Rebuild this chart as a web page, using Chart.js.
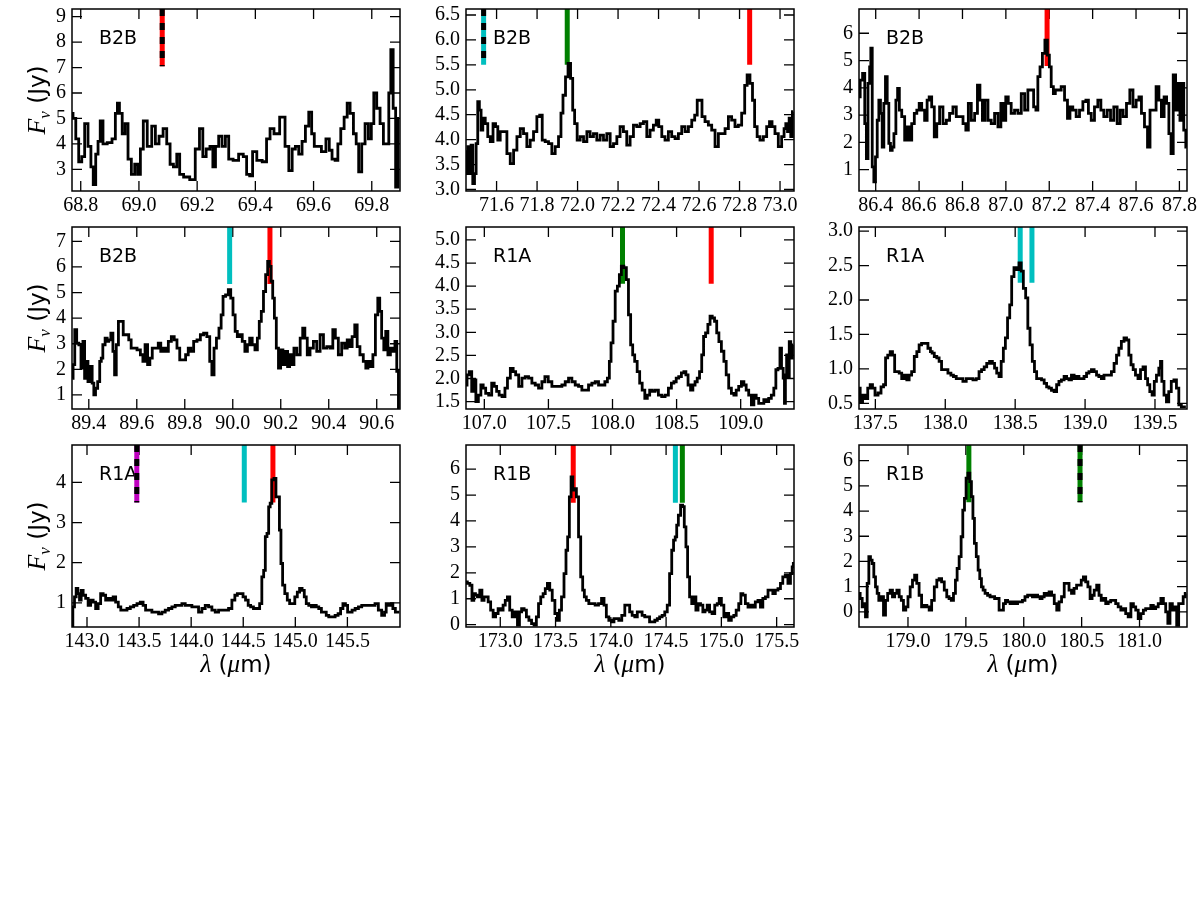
<!DOCTYPE html>
<html>
<head>
<meta charset="utf-8">
<script src="https://cdn.jsdelivr.net/npm/chart.js@4.4.0/dist/chart.umd.min.js"></script>
<style>
  body { margin: 0; background: #fff; width: 1200px; height: 900px; position: relative; overflow: hidden; }
  .p { position: absolute; width: 412px; height: 260px; }
</style>
</head>
<body>
<script>
// ---- B2B 68.8-69.9 um ----
const lam1 = [68.768,68.779,68.787,68.799,68.808,68.819,68.831,68.839,68.847,68.856,68.863,68.871,68.882,68.900,68.915,68.923,68.929,68.937,68.948,68.957,68.968,68.980,68.991,69.000,69.010,69.020,69.037,69.051,69.062,69.076,69.090,69.101,69.113,69.124,69.136,69.144,69.163,69.186,69.201,69.215,69.224,69.238,69.250,69.258,69.268,69.280,69.291,69.303,69.314,69.333,69.352,69.365,69.375,69.386,69.395,69.415,69.432,69.445,69.456,69.472,69.495,69.509,69.521,69.532,69.543,69.555,69.566,69.578,69.589,69.598,69.607,69.619,69.635,69.650,69.658,69.669,69.679,69.688,69.699,69.711,69.720,69.731,69.743,69.750,69.760,69.771,69.783,69.794,69.803,69.811,69.823,69.834,69.846,69.855,69.862,69.869,69.878,69.886,69.894];
const flux1 = [5.2,5.0,4.2,3.3,3.5,4.8,3.9,3.1,2.4,3.6,4.1,4.9,4.0,4.05,4.2,5.2,5.6,5.2,4.4,4.8,3.4,2.8,3.2,2.8,3.8,4.9,3.9,4.7,4.0,4.3,4.6,4.0,3.2,3.1,3.6,2.8,2.7,2.6,3.8,4.6,3.5,3.8,3.9,3.1,3.9,4.3,3.9,4.3,3.4,3.35,3.6,3.5,2.8,2.75,3.7,3.35,3.3,4.2,4.6,4.4,5.05,3.9,2.95,3.8,3.9,3.6,4.1,4.7,5.25,4.4,3.9,3.9,3.7,4.2,3.75,3.4,3.35,4.0,4.6,5.05,5.6,5.2,4.4,4.0,2.9,4.0,4.8,4.2,4.8,6.0,5.4,4.8,4.0,4.0,6.0,7.7,5.4,2.3,5.0];
const xTicks1 = [68.8,69.0,69.2,69.4,69.6,69.8];
const yTicks1 = [3,4,5,6,7,8,9];
const lines1 = [69.08];
const kinds1 = ['redBlend'];

// ---- B2B 71.4-73.1 um ----
const lam2 = [71.449,71.454,71.462,71.470,71.478,71.487,71.495,71.503,71.511,71.519,71.528,71.536,71.552,71.561,71.577,71.588,71.602,71.610,71.626,71.643,71.659,71.676,71.692,71.709,71.725,71.741,71.758,71.774,71.791,71.807,71.819,71.832,71.848,71.865,71.881,71.898,71.914,71.922,71.934,71.947,71.959,71.972,71.980,71.991,72.005,72.021,72.038,72.054,72.070,72.087,72.103,72.120,72.136,72.153,72.169,72.186,72.202,72.218,72.235,72.251,72.268,72.284,72.301,72.317,72.334,72.350,72.366,72.383,72.394,72.408,72.424,72.440,72.457,72.473,72.490,72.506,72.523,72.539,72.556,72.572,72.585,72.597,72.608,72.621,72.638,72.654,72.671,72.687,72.704,72.720,72.737,72.753,72.769,72.786,72.802,72.819,72.832,72.843,72.860,72.868,72.881,72.893,72.909,72.926,72.942,72.954,72.967,72.983,73.000,73.016,73.024,73.033,73.041,73.049,73.057,73.065];
const flux2 = [3.76,3.32,3.86,3.32,3.89,3.12,3.32,3.92,4.76,4.59,4.19,4.43,4.32,4.06,3.96,4.32,4.26,3.99,4.16,4.16,3.72,3.52,3.79,4.06,4.22,4.12,3.86,3.99,4.16,4.46,4.49,3.99,3.96,3.92,3.72,3.86,4.06,4.53,4.89,5.26,5.53,5.23,4.59,4.32,3.99,4.06,3.96,4.16,4.06,4.12,3.99,4.09,3.99,4.12,3.86,3.92,4.06,4.26,4.16,3.89,4.06,4.29,4.26,4.32,4.36,4.06,4.19,4.29,4.39,4.26,4.06,3.99,4.16,4.06,4.02,4.12,4.26,4.16,4.26,4.39,4.49,4.79,4.79,4.46,4.36,4.29,4.19,3.86,4.12,4.12,4.22,4.46,4.39,4.26,4.29,4.53,5.09,5.30,5.13,4.79,4.26,4.06,3.99,4.06,4.26,4.36,4.26,4.12,3.86,4.06,4.22,4.32,4.16,4.43,4.06,4.56];
const xTicks2 = [71.6,71.8,72.0,72.2,72.4,72.6,72.8,73.0];
const yTicks2 = [3.0,3.5,4.0,4.5,5.0,5.5,6.0,6.5];
const lines2 = [71.536,71.949,72.85];
const kinds2 = ['cyanBlend','green','red'];

// ---- B2B 86.3-87.8 um ----
const lam3 = [86.323,86.334,86.345,86.354,86.360,86.369,86.375,86.380,86.388,86.395,86.403,86.411,86.418,86.426,86.434,86.441,86.449,86.457,86.464,86.472,86.480,86.488,86.498,86.504,86.514,86.526,86.541,86.549,86.560,86.572,86.584,86.595,86.606,86.618,86.633,86.641,86.652,86.664,86.676,86.687,86.702,86.718,86.733,86.748,86.764,86.779,86.795,86.810,86.821,86.833,86.848,86.864,86.874,86.887,86.897,86.910,86.925,86.940,86.956,86.971,86.983,86.994,87.005,87.017,87.032,87.048,87.063,87.079,87.094,87.109,87.122,87.134,87.143,87.152,87.163,87.174,87.186,87.197,87.204,87.214,87.224,87.232,87.247,87.263,87.278,87.290,87.301,87.316,87.332,87.347,87.363,87.375,87.386,87.401,87.416,87.432,87.444,87.459,87.475,87.490,87.505,87.521,87.533,87.548,87.564,87.579,87.593,87.608,87.619,87.631,87.647,87.659,87.670,87.685,87.700,87.711,87.723,87.736,87.746,87.757,87.766,87.777,87.788,87.797,87.808,87.815,87.825,87.834];
const flux3 = [3.67,4.28,4.53,2.69,1.40,4.16,4.77,5.45,1.10,0.55,1.47,2.81,3.55,3.06,1.83,3.43,4.41,3.43,1.96,1.71,1.83,2.32,3.55,3.98,3.18,2.94,2.08,2.57,2.08,2.69,3.06,3.18,3.43,3.18,2.81,3.55,3.67,3.30,2.20,2.69,3.30,2.69,2.81,3.06,3.30,2.94,2.94,2.69,2.45,3.43,2.81,3.06,4.10,3.55,2.81,3.55,2.81,2.69,3.06,2.57,3.43,2.81,3.67,3.43,3.06,3.18,3.06,3.79,3.18,3.92,3.92,3.30,3.18,4.41,4.77,5.26,5.75,5.20,4.77,4.04,3.79,3.92,3.92,4.04,3.55,2.88,3.30,3.18,2.94,3.18,3.49,3.55,3.06,2.81,3.30,3.55,3.18,2.94,3.18,2.81,3.30,2.69,3.18,2.94,3.43,3.92,3.30,3.55,3.67,3.06,2.57,1.83,3.18,3.18,4.04,3.55,2.94,3.67,3.43,2.32,1.59,4.47,3.18,4.16,2.81,4.16,2.45,1.83];
const xTicks3 = [86.4,86.6,86.8,87.0,87.2,87.4,87.6,87.8];
const yTicks3 = [1,2,3,4,5,6];
const lines3 = [87.19];
const kinds3 = ['red'];

// ---- B2B 89.3-90.7 um ----
const lam4 = [89.331,89.338,89.345,89.354,89.363,89.372,89.379,89.386,89.393,89.400,89.410,89.418,89.424,89.432,89.442,89.449,89.455,89.462,89.474,89.479,89.487,89.497,89.504,89.511,89.518,89.529,89.539,89.548,89.560,89.573,89.580,89.594,89.608,89.622,89.629,89.640,89.650,89.659,89.670,89.684,89.695,89.705,89.715,89.726,89.737,89.751,89.761,89.774,89.784,89.798,89.809,89.820,89.830,89.844,89.858,89.872,89.885,89.899,89.909,89.917,89.927,89.937,89.948,89.955,89.964,89.976,89.987,89.996,90.006,90.014,90.024,90.034,90.045,90.056,90.066,90.075,90.087,90.098,90.107,90.114,90.124,90.132,90.142,90.149,90.156,90.163,90.170,90.177,90.186,90.195,90.204,90.214,90.225,90.232,90.242,90.250,90.260,90.274,90.288,90.295,90.306,90.315,90.329,90.343,90.357,90.371,90.385,90.399,90.412,90.422,90.433,90.447,90.461,90.472,90.482,90.492,90.503,90.514,90.523,90.537,90.551,90.558,90.569,90.579,90.589,90.600,90.609,90.616,90.625,90.634,90.641,90.652,90.662,90.672,90.680,90.687,90.694];
const flux4 = [1.65,2.18,3.55,3.02,2.96,2.05,3.09,1.65,2.31,1.52,2.11,1.46,1.00,1.26,1.52,2.31,2.44,2.96,3.22,3.09,3.15,3.41,2.70,1.78,2.96,3.87,3.87,3.35,3.35,3.15,2.83,2.83,2.76,2.57,2.31,2.96,2.18,2.44,2.83,2.83,3.02,2.70,2.83,2.70,3.09,3.28,3.15,2.83,2.37,2.37,2.57,2.83,2.70,3.09,3.15,3.35,3.41,3.28,2.31,1.78,2.83,3.22,3.61,4.13,4.85,4.91,5.11,4.78,4.13,3.48,3.28,3.35,3.09,2.70,2.96,3.22,2.96,2.76,3.22,3.87,4.26,5.04,5.70,6.22,6.02,5.44,4.78,4.00,2.83,2.05,2.76,2.18,2.70,2.11,2.57,2.18,2.83,2.57,3.22,3.61,3.22,2.57,2.83,3.09,2.70,3.35,2.83,2.89,2.83,3.55,3.22,2.57,3.02,2.83,3.15,2.89,3.28,3.74,2.89,2.57,2.31,2.05,2.31,2.11,2.57,4.13,4.78,4.26,3.22,2.76,3.48,2.57,2.83,2.70,3.09,1.92,0.48];
const xTicks4 = [89.4,89.6,89.8,90.0,90.2,90.4,90.6];
const yTicks4 = [1,2,3,4,5,6,7];
const lines4 = [89.987,90.155];
const kinds4 = ['cyan','red'];

// ---- R1A 106.9-109.4 um ----
const lam5 = [106.857,106.873,106.891,106.912,106.925,106.943,106.964,106.982,107.000,107.021,107.047,107.068,107.086,107.106,107.125,107.151,107.171,107.190,107.216,107.234,107.255,107.281,107.306,107.332,107.358,107.384,107.410,107.436,107.462,107.483,107.514,107.540,107.566,107.592,107.618,107.644,107.670,107.696,107.722,107.748,107.774,107.800,107.826,107.852,107.878,107.904,107.930,107.951,107.969,107.982,107.995,108.013,108.029,108.047,108.060,108.078,108.099,108.117,108.132,108.151,108.164,108.182,108.203,108.221,108.242,108.262,108.281,108.299,108.319,108.345,108.371,108.397,108.423,108.449,108.470,108.488,108.506,108.527,108.548,108.566,108.579,108.600,108.618,108.636,108.652,108.670,108.688,108.704,108.717,108.735,108.753,108.769,108.787,108.805,108.821,108.839,108.860,108.878,108.896,108.917,108.938,108.956,108.974,108.995,109.016,109.034,109.052,109.073,109.094,109.112,109.130,109.151,109.171,109.190,109.208,109.229,109.249,109.268,109.281,109.301,109.312,109.325,109.338,109.345,109.353,109.364,109.374,109.384,109.397,109.410];
const flux5 = [1.86,2.08,2.15,1.72,1.97,1.50,1.64,1.86,1.79,1.68,1.64,1.90,1.83,1.72,1.64,1.61,1.79,2.01,2.22,2.15,2.08,1.83,2.01,2.04,2.01,1.90,1.86,1.79,1.93,2.04,1.93,1.83,1.83,1.83,1.86,1.93,2.01,1.93,1.86,1.83,1.75,1.75,1.86,1.90,1.93,1.86,1.86,1.93,2.01,2.37,2.77,3.24,3.89,4.00,4.25,4.43,4.40,4.14,3.38,2.73,2.51,2.37,2.15,1.90,1.75,1.57,1.64,1.75,1.72,1.75,1.64,1.61,1.64,1.79,1.90,1.93,2.01,2.04,2.12,2.15,2.08,1.86,1.75,1.86,1.93,2.01,2.15,2.51,2.91,2.99,3.17,3.35,3.31,3.24,2.99,2.80,2.59,2.37,2.08,1.79,1.68,1.64,1.75,1.83,1.93,1.86,1.75,1.64,1.43,1.64,1.57,1.46,1.46,1.54,1.50,1.57,1.64,1.79,2.19,2.22,2.66,2.22,2.01,1.46,2.08,2.51,2.04,2.80,2.44,2.73];
const xTicks5 = [107.0,107.5,108.0,108.5,109.0];
const yTicks5 = [1.5,2.0,2.5,3.0,3.5,4.0,4.5,5.0];
const lines5 = [108.078,108.77];
const kinds5 = ['green','red'];

// ---- R1A 137.4-139.7 um ----
const lam6 = [137.383,137.400,137.417,137.436,137.455,137.471,137.488,137.507,137.531,137.550,137.567,137.579,137.598,137.614,137.631,137.645,137.662,137.679,137.698,137.717,137.733,137.750,137.769,137.788,137.805,137.821,137.840,137.864,137.888,137.900,137.912,137.931,137.948,137.964,137.983,138.007,138.031,138.050,138.067,138.090,138.114,138.138,138.162,138.186,138.210,138.233,138.250,138.269,138.288,138.305,138.329,138.345,138.360,138.376,138.393,138.407,138.424,138.436,138.455,138.467,138.483,138.500,138.519,138.536,138.550,138.567,138.583,138.598,138.614,138.631,138.645,138.662,138.679,138.698,138.717,138.733,138.750,138.769,138.788,138.805,138.821,138.840,138.860,138.876,138.893,138.912,138.931,138.948,138.964,138.983,139.002,139.019,139.036,139.055,139.074,139.090,139.107,139.126,139.145,139.162,139.179,139.198,139.217,139.233,139.250,139.269,139.288,139.305,139.321,139.336,139.352,139.369,139.388,139.405,139.424,139.440,139.455,139.471,139.488,139.502,139.519,139.536,139.543,139.555,139.574,139.590,139.607,139.626,139.645,139.662,139.679,139.698,139.721];
const flux6 = [0.72,0.52,0.62,0.57,0.72,0.77,0.72,0.62,0.65,0.74,0.77,1.16,1.20,1.25,1.20,0.96,0.96,0.94,0.86,0.91,0.84,0.91,0.96,1.18,1.25,1.35,1.37,1.37,1.30,1.25,1.23,1.18,1.16,1.11,0.99,0.99,0.94,0.91,0.89,0.86,0.86,0.82,0.86,0.86,0.84,0.86,0.96,0.99,1.03,1.08,1.11,1.08,1.01,0.94,0.89,1.11,1.30,1.45,1.74,1.93,2.34,2.47,2.44,2.54,2.42,2.17,2.03,1.59,1.35,1.11,0.96,0.86,0.86,0.84,0.79,0.74,0.72,0.69,0.67,0.77,0.82,0.84,0.89,0.86,0.84,0.91,0.86,0.89,0.86,0.86,0.89,0.94,0.96,0.99,0.96,0.91,0.89,0.86,0.91,0.91,0.91,0.96,1.08,1.20,1.30,1.40,1.45,1.42,1.20,1.06,0.99,0.91,0.86,0.99,1.03,0.86,0.77,0.67,0.62,0.82,0.91,1.01,1.11,0.82,0.62,0.52,0.67,0.82,0.84,0.72,0.48,0.45,0.45];
const xTicks6 = [137.5,138.0,138.5,139.0,139.5];
const yTicks6 = [0.5,1.0,1.5,2.0,2.5,3.0];
const lines6 = [138.536,138.62];
const kinds6 = ['cyan','cyan'];

// ---- R1A 142.9-146.0 um ----
const lam7 = [142.856,142.872,142.888,142.904,142.920,142.936,142.952,142.974,143.000,143.022,143.048,143.070,143.096,143.118,143.144,143.166,143.192,143.217,143.240,143.262,143.288,143.313,143.336,143.368,143.400,143.432,143.464,143.496,143.527,143.550,143.575,143.607,143.639,143.671,143.703,143.735,143.767,143.799,143.831,143.863,143.895,143.927,143.959,143.991,144.023,144.055,144.087,144.119,144.151,144.183,144.215,144.247,144.279,144.311,144.343,144.375,144.407,144.432,144.455,144.487,144.509,144.535,144.560,144.582,144.614,144.646,144.669,144.688,144.704,144.720,144.736,144.752,144.765,144.784,144.806,144.822,144.841,144.854,144.870,144.886,144.912,144.934,144.957,144.982,145.008,145.030,145.052,145.078,145.094,145.116,145.142,145.168,145.190,145.212,145.238,145.263,145.286,145.308,145.334,145.366,145.398,145.423,145.446,145.468,145.494,145.510,145.532,145.558,145.590,145.622,145.653,145.685,145.717,145.749,145.781,145.813,145.845,145.868,145.877,145.903,145.925,145.948,145.973,145.999];
const flux7 = [0.40,0.90,1.15,1.36,1.23,1.07,1.31,1.19,1.11,0.94,1.07,1.02,0.86,0.98,1.23,1.19,1.07,1.11,1.07,1.15,1.02,0.90,0.82,0.82,0.86,0.90,0.94,0.98,1.02,0.94,0.82,0.82,0.77,0.77,0.73,0.77,0.82,0.86,0.90,0.94,0.94,0.98,0.94,0.94,0.90,0.90,0.77,0.86,0.94,0.90,0.82,0.77,0.82,0.82,0.82,0.86,1.07,1.19,1.23,1.23,1.15,1.07,0.94,0.90,0.86,0.86,0.98,1.65,1.81,2.65,2.73,3.39,3.48,4.06,4.10,3.64,3.64,2.81,1.98,1.44,1.23,1.07,0.98,0.98,1.15,1.27,1.36,1.31,1.15,0.98,0.94,0.90,0.94,0.90,0.86,0.77,0.77,0.69,0.65,0.65,0.69,0.73,0.86,0.98,0.94,0.77,0.77,0.82,0.86,0.90,0.94,0.94,0.94,0.94,0.98,0.82,0.69,0.77,0.98,0.94,0.98,0.86,0.77,0.77];
const xTicks7 = [143.0,143.5,144.0,144.5,145.0,145.5];
const yTicks7 = [1,2,3,4];
const lines7 = [143.478,144.51,144.785];
const kinds7 = ['magentaBlend','cyan','red'];

// ---- R1B 172.7-175.7 um ----
const lam8 = [172.690,172.714,172.735,172.753,172.768,172.783,172.804,172.825,172.843,172.864,172.880,172.901,172.925,172.946,172.970,172.991,173.015,173.036,173.054,173.075,173.096,173.120,173.145,173.166,173.181,173.205,173.226,173.247,173.271,173.295,173.316,173.337,173.355,173.377,173.398,173.416,173.437,173.458,173.482,173.506,173.527,173.542,173.566,173.587,173.602,173.617,173.633,173.648,173.663,173.678,173.699,173.717,173.738,173.753,173.768,173.789,173.813,173.843,173.873,173.904,173.928,173.949,173.970,173.994,174.018,174.039,174.060,174.084,174.114,174.139,174.160,174.181,174.205,174.229,174.250,174.271,174.295,174.319,174.340,174.361,174.386,174.410,174.431,174.452,174.476,174.500,174.521,174.542,174.560,174.575,174.590,174.602,174.620,174.642,174.657,174.672,174.687,174.702,174.723,174.741,174.762,174.777,174.801,174.822,174.843,174.861,174.883,174.904,174.928,174.952,174.973,174.988,175.012,175.033,175.054,175.078,175.102,175.123,175.145,175.169,175.184,175.205,175.229,175.253,175.274,175.295,175.319,175.343,175.364,175.386,175.410,175.434,175.455,175.476,175.500,175.524,175.545,175.566,175.590,175.614,175.636,175.645,175.657];
const flux8 = [1.65,1.59,1.52,0.94,1.20,1.14,1.07,1.33,0.94,1.07,1.07,0.88,0.56,0.30,0.43,0.62,0.56,0.75,0.94,1.07,0.56,0.30,0.49,-0.02,0.49,0.62,0.56,0.30,0.17,0.04,-0.02,0.30,0.81,1.07,1.20,1.39,1.59,1.33,0.94,0.43,0.17,0.56,1.07,1.97,2.87,3.39,4.93,5.70,5.19,5.25,4.93,3.39,1.84,1.33,1.07,0.94,0.81,0.81,0.75,0.81,1.01,0.75,0.30,0.17,0.11,0.23,0.23,0.17,0.36,0.75,0.75,0.49,0.36,0.30,0.49,0.49,0.36,0.30,0.30,0.11,0.11,0.17,0.23,0.30,0.36,0.49,0.75,1.97,2.87,3.26,3.39,3.84,4.22,4.61,4.55,3.77,3.00,1.84,1.07,0.81,1.07,0.56,0.81,0.75,0.49,0.56,0.75,0.49,0.43,0.75,0.81,1.01,0.75,0.30,0.43,0.17,0.30,0.36,0.56,0.81,1.20,1.14,0.81,0.68,0.75,0.68,0.88,0.94,0.68,1.01,1.07,1.33,1.33,1.20,1.33,1.39,1.59,1.84,1.91,1.59,1.97,2.23,2.36];
const xTicks8 = [173.0,173.5,174.0,174.5,175.0,175.5];
const yTicks8 = [0,1,2,3,4,5,6];
const lines8 = [173.66,174.584,174.647];
const kinds8 = ['red','cyan','green'];

// ---- R1B 178.6-181.4 um ----
const lam9 = [178.577,178.597,178.612,178.626,178.640,178.655,178.669,178.683,178.698,178.712,178.727,178.741,178.755,178.778,178.799,178.813,178.836,178.856,178.876,178.894,178.914,178.934,178.951,178.971,178.991,179.009,179.029,179.049,179.066,179.086,179.106,179.129,179.153,179.173,179.193,179.216,179.239,179.259,179.279,179.302,179.325,179.345,179.365,179.383,179.403,179.417,179.432,179.452,179.466,179.481,179.495,179.509,179.527,179.541,179.555,179.567,179.581,179.599,179.613,179.627,179.642,179.656,179.676,179.699,179.719,179.740,179.757,179.777,179.797,179.814,179.835,179.849,179.872,179.892,179.912,179.935,179.958,179.978,179.999,180.022,180.045,180.065,180.085,180.108,180.131,180.151,180.165,180.188,180.209,180.229,180.252,180.275,180.295,180.315,180.338,180.361,180.381,180.401,180.424,180.445,180.468,180.488,180.505,180.525,180.545,180.563,180.583,180.597,180.620,180.640,180.660,180.678,180.698,180.718,180.741,180.761,180.784,180.804,180.827,180.850,180.871,180.890,180.914,180.937,180.957,180.977,181.000,181.023,181.043,181.063,181.086,181.109,181.129,181.150,181.173,181.196,181.216,181.236,181.253,181.273,181.294,181.311,181.331,181.345,181.368,181.386,181.403];
const flux9 = [0.73,0.53,0.20,0.33,-0.20,1.13,2.19,2.05,1.92,1.39,0.99,0.73,0.46,0.60,-0.13,0.46,0.73,0.86,0.60,0.73,0.86,0.60,0.46,0.07,0.20,0.60,0.99,1.26,1.46,1.13,0.66,0.20,0.26,0.20,0.07,0.46,0.99,1.26,1.32,1.19,0.86,0.60,0.53,0.46,0.73,1.26,1.72,2.19,2.98,4.04,4.50,5.30,5.50,5.17,4.57,3.71,2.72,2.19,1.66,1.32,0.99,0.86,0.73,0.66,0.60,0.60,0.53,0.53,0.07,0.07,0.33,0.46,0.40,0.33,0.40,0.33,0.40,0.40,0.46,0.60,0.66,0.66,0.60,0.66,0.60,0.53,0.60,0.73,0.66,0.79,0.66,0.33,0.07,0.40,0.60,1.13,1.13,0.86,0.73,0.93,1.06,1.06,1.26,1.39,1.19,0.99,0.53,0.66,0.86,1.06,0.66,0.46,0.53,0.33,0.40,0.46,0.46,0.33,0.20,0.07,0.13,-0.07,-0.20,0.33,0.20,0.07,-0.27,-0.07,0.07,0.13,0.13,0.26,0.13,0.20,0.33,0.53,0.33,0.00,-0.46,0.33,0.07,0.20,-0.53,0.33,0.33,0.60,0.73];
const xTicks9 = [179.0,179.5,180.0,180.5,181.0];
const yTicks9 = [0,1,2,3,4,5,6];
const lines9 = [179.526,180.486];
const kinds9 = ['green','greenBlend'];

// line marker styles
const kindStyle = {
  red: { color: "#ff0000", dash: false },
  redBlend: { color: "#ff0000", dash: true },
  green: { color: "#008000", dash: false },
  greenBlend: { color: "#008000", dash: true },
  cyan: { color: "#00bfbf", dash: false },
  cyanBlend: { color: "#00bfbf", dash: true },
  magentaBlend: { color: "#bf00bf", dash: true },
};

const panels = [
  { lam: lam1, flux: flux1, xr: [68.77, 69.897], yr: [2.15, 9.3], xt: xTicks1, yt: yTicks1, yDec: 0, lines: lines1, kinds: kinds1, base: 7.05, label: "B2B" },
  { lam: lam2, flux: flux2, xr: [71.449, 73.069], yr: [2.97, 6.62], xt: xTicks2, yt: yTicks2, yDec: 1, lines: lines2, kinds: kinds2, base: 5.5, label: "B2B" },
  { lam: lam3, flux: flux3, xr: [86.323, 87.835], yr: [0.216, 6.89], xt: xTicks3, yt: yTicks3, yDec: 0, lines: lines3, kinds: kinds3, base: 4.8, label: "B2B" },
  { lam: lam4, flux: flux4, xr: [89.33, 90.697], yr: [0.45, 7.56], xt: xTicks4, yt: yTicks4, yDec: 0, lines: lines4, kinds: kinds4, base: 5.33, label: "B2B" },
  { lam: lam5, flux: flux5, xr: [106.857, 109.416], yr: [1.34, 5.28], xt: xTicks5, yt: yTicks5, yDec: 1, lines: lines5, kinds: kinds5, base: 4.05, label: "R1A" },
  { lam: lam6, flux: flux6, xr: [137.383, 139.729], yr: [0.418, 3.06], xt: xTicks6, yt: yTicks6, yDec: 1, lines: lines6, kinds: kinds6, base: 2.25, label: "R1A" },
  { lam: lam7, flux: flux7, xr: [142.856, 146.005], yr: [0.4, 4.93], xt: xTicks7, yt: yTicks7, yDec: 0, lines: lines7, kinds: kinds7, base: 3.5, label: "R1A" },
  { lam: lam8, flux: flux8, xr: [172.69, 175.657], yr: [-0.09, 6.93], xt: xTicks8, yt: yTicks8, yDec: 0, lines: lines8, kinds: kinds8, base: 4.7, label: "R1B" },
  { lam: lam9, flux: flux9, xr: [178.577, 181.41], yr: [-0.6, 6.62], xt: xTicks9, yt: yTicks9, yDec: 0, lines: lines9, kinds: kinds9, base: 4.35, label: "R1B" },
];

const colLeft = [72, 466, 859];
const rowTop = [9, 227, 445];
const padL = 60, padT = 22, padR = 24;
const tickFont = { family: '"Liberation Serif", serif', size: 20 };

// draw text made of several pieces with different fonts, centred on cx
function drawParts(ctx, parts, cx, baseY) {
  let w = 0;
  parts.forEach((p) => { ctx.font = p.font; p.w = ctx.measureText(p.t).width; w += p.w; });
  let x = cx - w / 2;
  parts.forEach((p) => { ctx.font = p.font; ctx.fillText(p.t, x, baseY + (p.dy || 0)); x += p.w; });
}

// inward ticks on all four sides, frame, panel label and axis titles
const framePlugin = {
  id: "frame",
  beforeDatasetsDraw(chart, args, opts) {
    const { ctx, chartArea: a } = chart;
    const xs = chart.scales.x, ys = chart.scales.y;
    ctx.save();
    ctx.strokeStyle = "#000";
    ctx.lineWidth = 1.3;
    ctx.beginPath();
    xs.ticks.forEach((t) => {
      const px = xs.getPixelForValue(t.value);
      ctx.moveTo(px, a.bottom); ctx.lineTo(px, a.bottom - 10);
      ctx.moveTo(px, a.top); ctx.lineTo(px, a.top + 10);
    });
    ys.ticks.forEach((t) => {
      const py = ys.getPixelForValue(t.value);
      ctx.moveTo(a.left, py); ctx.lineTo(a.left + 10, py);
      ctx.moveTo(a.right, py); ctx.lineTo(a.right - 10, py);
    });
    ctx.stroke();
    // panel label
    ctx.fillStyle = "#000";
    ctx.font = '19px "DejaVu Sans"';
    ctx.textBaseline = "middle";
    ctx.textAlign = "left";
    ctx.fillText(opts.label, a.left + 27, a.top + 30);
    ctx.restore();
  },
  afterDraw(chart, args, opts) {
    const { ctx, chartArea: a } = chart;
    ctx.save();
    ctx.strokeStyle = "#000";
    ctx.lineWidth = 1.5;
    ctx.strokeRect(a.left, a.top, a.right - a.left, a.bottom - a.top);
    ctx.fillStyle = "#000";
    ctx.textBaseline = "alphabetic";
    ctx.textAlign = "left";
    if (opts.ylab) {
      ctx.save();
      ctx.translate(a.left - 35, (a.top + a.bottom) / 2);
      ctx.rotate(-Math.PI / 2);
      drawParts(ctx, [
        { t: "F", font: 'italic 26px "Liberation Serif"' },
        { t: "\u03bd", font: 'italic 17px "Liberation Serif"', dy: 5 },
        { t: " (Jy)", font: '23px "DejaVu Sans"' },
      ], 0, 8);
      ctx.restore();
    }
    if (opts.xlab) {
      drawParts(ctx, [
        { t: "\u03bb", font: 'italic 25px "Liberation Serif"' },
        { t: " (", font: '23px "DejaVu Sans"' },
        { t: "\u03bc", font: 'italic 25px "Liberation Serif"' },
        { t: "m)", font: '23px "DejaVu Sans"' },
      ], (a.left + a.right) / 2, a.bottom + 45);
    }
    ctx.restore();
  },
};

panels.forEach((p, k) => {
  const col = k % 3, row = Math.floor(k / 3);
  const div = document.createElement("div");
  div.className = "p";
  div.style.left = colLeft[col] - padL + "px";
  div.style.top = rowTop[row] - padT + "px";
  const cv = document.createElement("canvas");
  div.appendChild(cv);
  document.body.appendChild(div);

  const datasets = [{
    data: p.lam.map((x, i) => ({ x: x, y: p.flux[i] })),
    borderColor: "#000",
    borderWidth: 2.8,
    stepped: "middle",
    pointRadius: 0,
    fill: false,
  }];
  p.lines.forEach((l, i) => {
    const st = kindStyle[p.kinds[i]];
    const seg = [{ x: l, y: p.yr[1] }, { x: l, y: p.base }];
    if (st.dash) {
      datasets.push({ data: seg, borderColor: "#000", borderWidth: 5, borderDash: [7, 7], pointRadius: 0, clip: 0 });
    }
    datasets.push({ data: seg, borderColor: st.color, borderWidth: 5, pointRadius: 0, clip: 0 });
  });

  new Chart(cv.getContext("2d"), {
    type: "line",
    data: { datasets: datasets },
    options: {
      responsive: true,
      maintainAspectRatio: false,
      animation: false,
      events: [],
      layout: { padding: { left: 0, top: padT, right: padR, bottom: 26 } },
      scales: {
        x: {
          type: "linear",
          min: p.xr[0],
          max: p.xr[1],
          grid: { display: false, drawTicks: false },
          border: { display: false },
          afterBuildTicks: (s) => { s.ticks = p.xt.map((v) => ({ value: v })); },
          afterFit: (s) => { s.height = 30; },
          ticks: { font: tickFont, color: "#000", padding: 3, maxRotation: 0, autoSkip: false, callback: (v) => v.toFixed(1) },
        },
        y: {
          type: "linear",
          min: p.yr[0],
          max: p.yr[1],
          grid: { display: false, drawTicks: false },
          border: { display: false },
          afterBuildTicks: (s) => { s.ticks = p.yt.map((v) => ({ value: v })); },
          afterFit: (s) => { s.width = padL; },
          ticks: { font: tickFont, color: "#000", padding: 6, autoSkip: false, callback: (v) => v.toFixed(p.yDec) },
        },
      },
      plugins: {
        legend: { display: false },
        tooltip: { enabled: false },
        frame: { label: p.label, ylab: col === 0, xlab: row === 2 },
      },
    },
    plugins: [framePlugin],
  });
});
</script>
</body>
</html>
